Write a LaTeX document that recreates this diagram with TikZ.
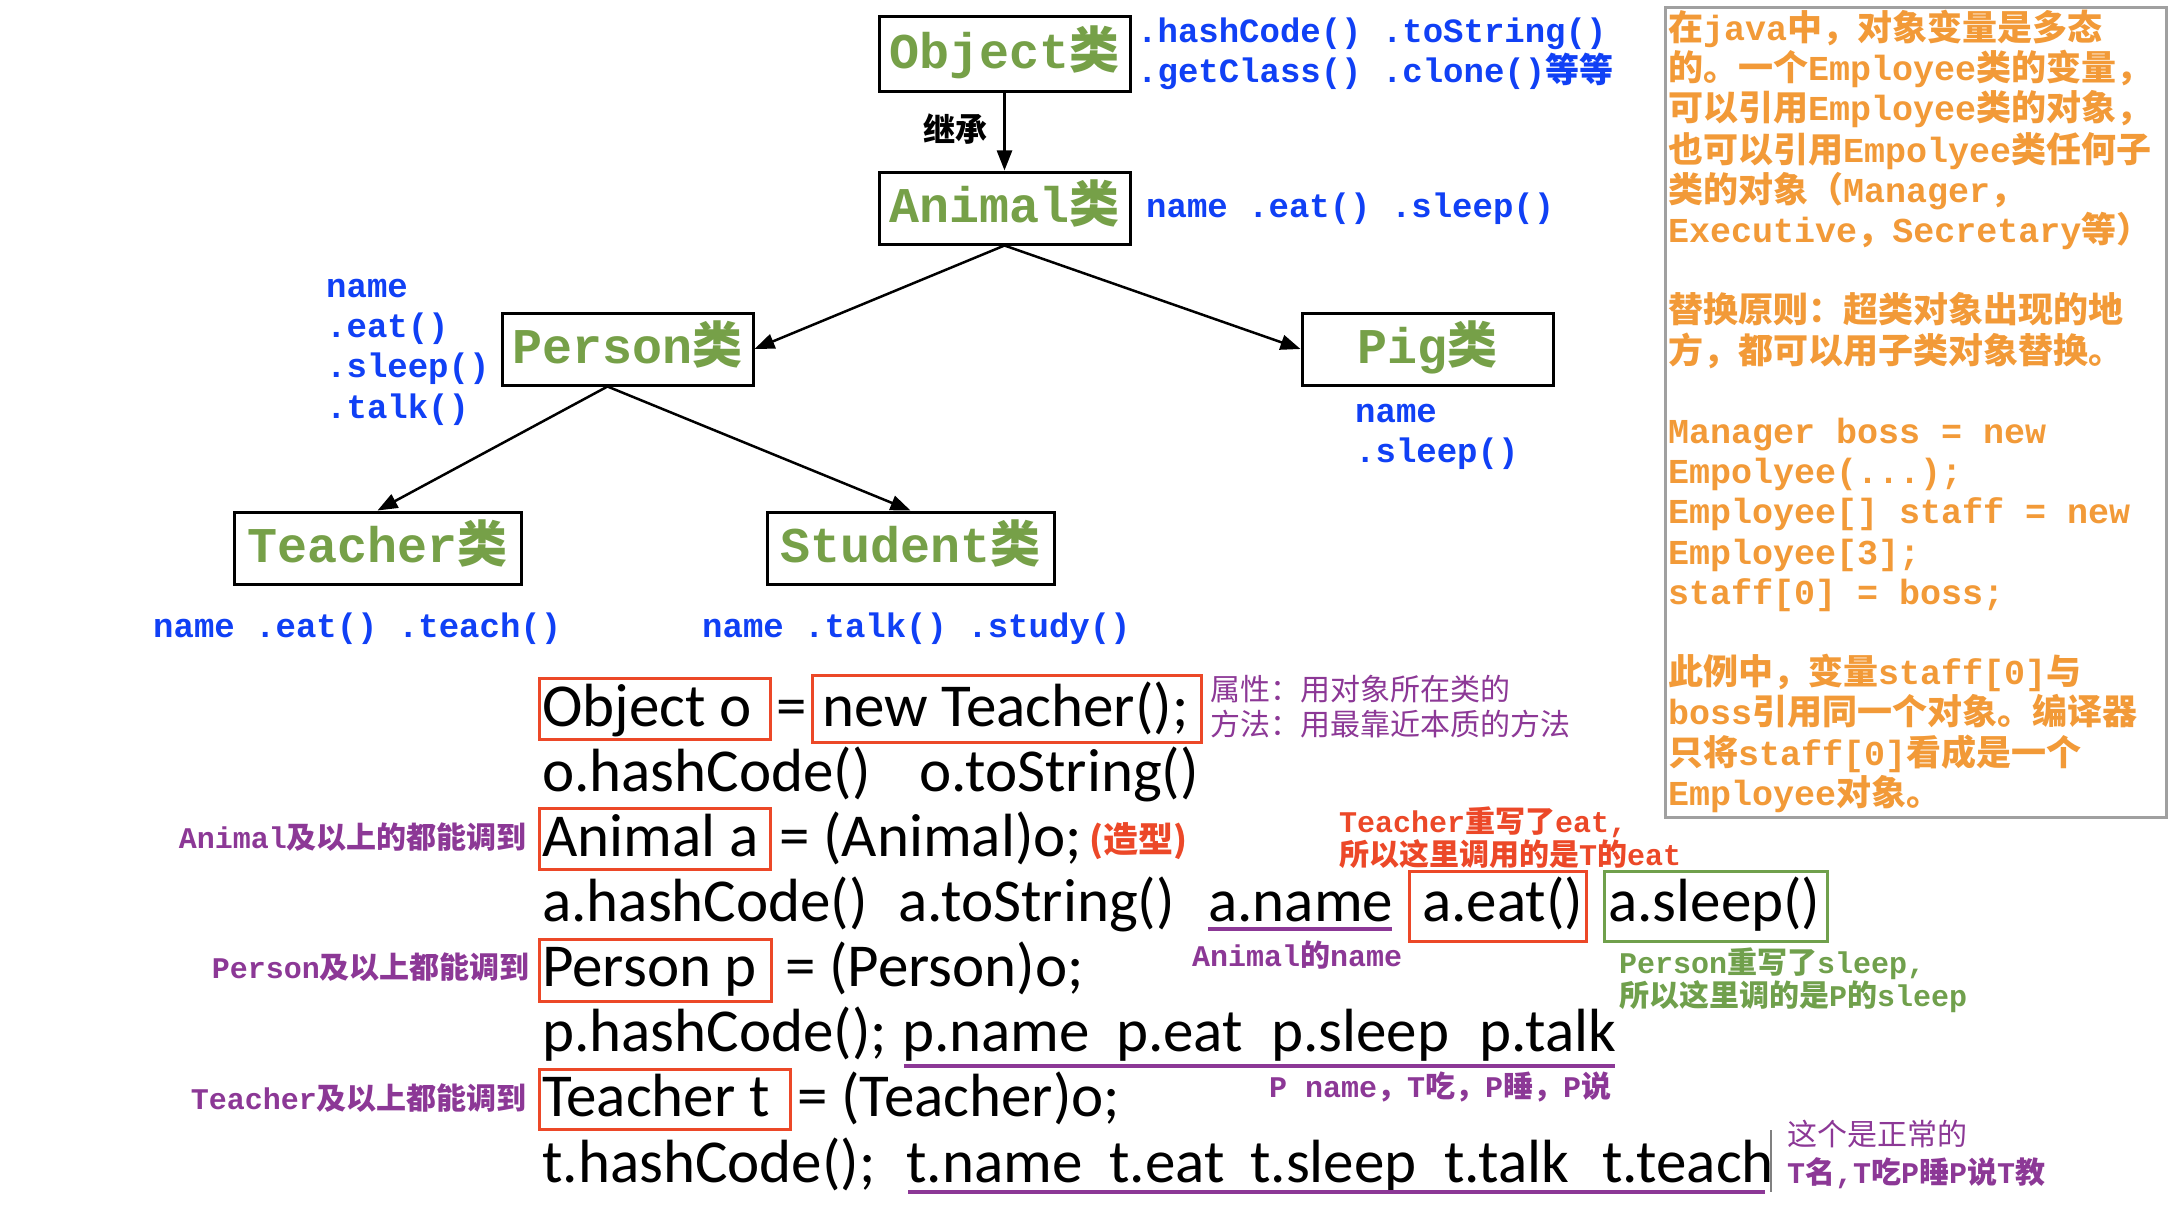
\documentclass[tikz,border=0pt]{standalone}
\usepackage{fontspec}
\usetikzlibrary{arrows.meta}
\newfontfamily\monofnt{Liberation Mono}
\newfontfamily\cjkfnt{Noto Sans CJK SC}
\newfontfamily\codefnt{Carlito}
\newcommand\zh[1]{{\cjkfnt #1}}
\definecolor{clsgreen}{RGB}{118,160,72}
\definecolor{lblblue}{RGB}{16,64,245}
\definecolor{orng}{RGB}{242,154,56}
\definecolor{purp}{RGB}{140,56,150}
\definecolor{redc}{RGB}{236,72,40}
\definecolor{grn}{RGB}{112,160,76}
\definecolor{boxgray}{RGB}{160,160,160}
\begin{document}
\begin{tikzpicture}[x=1pt,y=-1pt,
 cls/.style={draw=black, line width=3pt, minimum width=251pt, minimum height=72pt, inner sep=0pt, text=clsgreen, font=\fontsize{50}{56}\selectfont\monofnt\bfseries, text height=37pt, text depth=8pt},
 meth/.style={inner sep=0pt, anchor=west, text=lblblue, font=\fontsize{34}{40}\selectfont\monofnt\bfseries, text height=27pt, text depth=6pt},
 orl/.style={inner sep=0pt, anchor=west, text=orng, font=\fontsize{35}{40}\selectfont\monofnt\bfseries, text height=29pt, text depth=5pt},
 ann/.style={inner sep=0pt, anchor=west, font=\fontsize{30}{34}\selectfont\monofnt\bfseries, text height=26pt, text depth=4pt},
 annzh/.style={inner sep=0pt, anchor=west, font=\fontsize{30}{34}\selectfont\cjkfnt, text height=26pt, text depth=4pt},
 code/.style={inner sep=0pt, anchor=base west, font=\fontsize{61}{70}\selectfont\codefnt},
 arr/.style={line width=2.5pt, -{Triangle[length=20pt,width=15pt]}},
 redbox/.style={draw=redc, line width=3pt},
 grnbox/.style={draw=grn, line width=3pt},
 uline/.style={draw=purp, line width=3.5pt},
]
\useasboundingbox (0,0) rectangle (2174,1228);
\fill[white] (0,0) rectangle (2174,1228);

% ---------- class tree ----------
\node[cls, minimum height=75pt] (object) at (1004.5,54.5) {Object\zh{类}};
\node[cls] (animal) at (1004.5,208) {Animal\zh{类}};
\node[cls] (person) at (627.5,349) {Person\zh{类}};
\node[cls] (pig) at (1427.5,349) {Pig\zh{类}};
\node[cls, minimum width=287pt] (teacher) at (377.5,548) {Teacher\zh{类}};
\node[cls, minimum width=287pt] (student) at (910.5,548) {Student\zh{类}};

\draw[arr] (object.south) -- (animal.north);
\node[inner sep=0pt, font=\fontsize{32}{36}\selectfont\cjkfnt\bfseries] (inh) at (955,129) {继承};
\draw[arr] (animal.south) -- (person.east);
\draw[arr] (animal.south) -- (pig.west);
\draw[arr] ([xshift=-20pt]person.south) -- (teacher.north);
\draw[arr] ([xshift=-20pt]person.south) -- (student.north);

\node[meth] (om1) at (1137,32) {.hashCode() .toString()};
\node[meth] (om2) at (1137,72) {.getClass() .clone()\zh{等等}};
\node[meth] (am) at (1146,207) {name .eat() .sleep()};
\node[meth] (pm1) at (326,287) {name};
\node[meth] (pm2) at (326,327) {.eat()};
\node[meth] (pm3) at (326,367) {.sleep()};
\node[meth] (pm4) at (326,408) {.talk()};
\node[meth] (gm1) at (1355,412) {name};
\node[meth] (gm2) at (1355,452) {.sleep()};
\node[meth] (tm) at (153,627) {name .eat() .teach()};
\node[meth] (sm) at (702,627) {name .talk() .study()};

% ---------- right note box ----------
\draw[draw=boxgray, line width=3pt] (1665,8) rectangle (2166,817);
\node[orl] (r1) at (1668,29) {\zh{在}java\zh{中，对象变量是多态}};
\node[orl] (r2) at (1668,69) {\zh{的。一个}Employee\zh{类的变量，}};
\node[orl] (r3) at (1668,109) {\zh{可以引用}Employee\zh{类的对象，}};
\node[orl] (r4) at (1668,150) {\zh{也可以引用}Empolyee\zh{类任何子}};
\node[orl] (r5) at (1668,190) {\zh{类的对象（}Manager\zh{，}};
\node[orl] (r6) at (1668,230) {Executive\zh{，}Secretary\zh{等）}};
\node[orl] (r8) at (1668,310) {\zh{替换原则：超类对象出现的地}};
\node[orl] (r9) at (1668,351) {\zh{方，都可以用子类对象替换。}};
\node[orl] (r11) at (1668,431) {Manager boss = new};
\node[orl] (r12) at (1668,471) {Empolyee(...);};
\node[orl] (r13) at (1668,511) {Employee[] staff = new};
\node[orl] (r14) at (1668,552) {Employee[3];};
\node[orl] (r15) at (1668,592) {staff[0] = boss;};
\node[orl] (r17) at (1668,672) {\zh{此例中，变量}staff[0]\zh{与}};
\node[orl] (r18) at (1668,712) {boss\zh{引用同一个对象。编译器}};
\node[orl] (r19) at (1668,753) {\zh{只将}staff[0]\zh{看成是一个}};
\node[orl] (r20) at (1668,793) {Employee\zh{对象。}};

% ---------- code lines ----------
% line 1
\draw[redbox] (539,678) rectangle (770,739);
\node[code] (c1a) at (542,726) {Object o};
\node[code] (c1b) at (776,726) {=};
\draw[redbox] (812,675) rectangle (1201,742);
\node[code] (c1c) at (822,726) {new Teacher();};
\node[annzh, text=purp] (n1a) at (1210,689) {属性：用对象所在类的};
\node[annzh, text=purp] (n1b) at (1210,724) {方法：用最靠近本质的方法};
% line 2
\node[code] (c2a) at (542,791) {o.hashCode()};
\node[code] (c2b) at (919,791) {o.toString()};
% line 3
\draw[redbox] (539,808) rectangle (770,869);
\node[code] (c3a) at (542,856) {Animal a};
\node[code] (c3b) at (779,856) {= (Animal)o;};
\node[inner sep=0pt, anchor=west, text=redc, font=\fontsize{35}{40}\selectfont\cjkfnt\bfseries] (c3c) at (1089,841) {(造型)};
\node[ann, text=purp, anchor=east] (n3) at (527,837) {Animal\zh{及以上的都能调到}};
% line 4
\node[code] (c4a) at (542,921) {a.hashCode()};
\node[code] (c4b) at (898,921) {a.toString()};
\node[code] (c4c) at (1208,921) {a.name};
\draw[uline] (1208,929) -- (1392,929);
\draw[redbox] (1409,871) rectangle (1586,941);
\node[code] (c4d) at (1422,921) {a.eat()};
\draw[grnbox] (1604,871) rectangle (1827,941);
\node[code] (c4e) at (1608,921) {a.sleep()};
\node[ann, text=redc] (n4a) at (1339,821) {Teacher\zh{重写了}eat,};
\node[ann, text=redc] (n4b) at (1339,854) {\zh{所以这里调用的是}T\zh{的}eat};
\node[ann, text=purp] (n4c) at (1192,955) {Animal\zh{的}name};
\node[ann, text=grn] (n4d) at (1619,962) {Person\zh{重写了}sleep,};
\node[ann, text=grn] (n4e) at (1619,995) {\zh{所以这里调的是}P\zh{的}sleep};
% line 5
\draw[redbox] (539,939) rectangle (771,1001);
\node[code] (c5a) at (542,986) {Person p};
\node[code] (c5b) at (785,986) {= (Person)o;};
\node[ann, text=purp, anchor=east] (n5) at (530,967) {Person\zh{及以上都能调到}};
% line 6
\node[code] (c6a) at (542,1051) {p.hashCode();};
\node[code] (c6b) at (902,1051) {p.name};
\node[code] (c6c) at (1116,1051) {p.eat};
\node[code] (c6d) at (1271,1051) {p.sleep};
\node[code] (c6e) at (1479,1051) {p.talk};
\draw[uline] (904,1066) -- (1615,1066);
\node[ann, text=purp] (n6) at (1269,1086) {P name\zh{，}T\zh{吃，}P\zh{睡，}P\zh{说}};
% line 7
\draw[redbox] (539,1069) rectangle (790,1129);
\node[code] (c7a) at (542,1116) {Teacher t};
\node[code] (c7b) at (797,1116) {= (Teacher)o;};
\node[ann, text=purp, anchor=east] (n7) at (527,1098) {Teacher\zh{及以上都能调到}};
% line 8
\node[code] (c8a) at (542,1182) {t.hashCode();};
\node[code] (c8b) at (906,1182) {t.name};
\node[code] (c8c) at (1109,1182) {t.eat};
\node[code] (c8d) at (1250,1182) {t.sleep};
\node[code] (c8e) at (1444,1182) {t.talk};
\node[code] (c8f) at (1602,1182) {t.teach};
\draw[uline] (908,1192) -- (1765,1192);
\draw[draw=gray, line width=2pt] (1771,1130) -- (1771,1192);
\node[annzh, text=purp] (n8a) at (1787,1134) {这个是正常的};
\node[ann, text=purp] (n8b) at (1787,1172) {T\zh{名},T\zh{吃}P\zh{睡}P\zh{说}T\zh{教}};
\end{tikzpicture}
\end{document}
